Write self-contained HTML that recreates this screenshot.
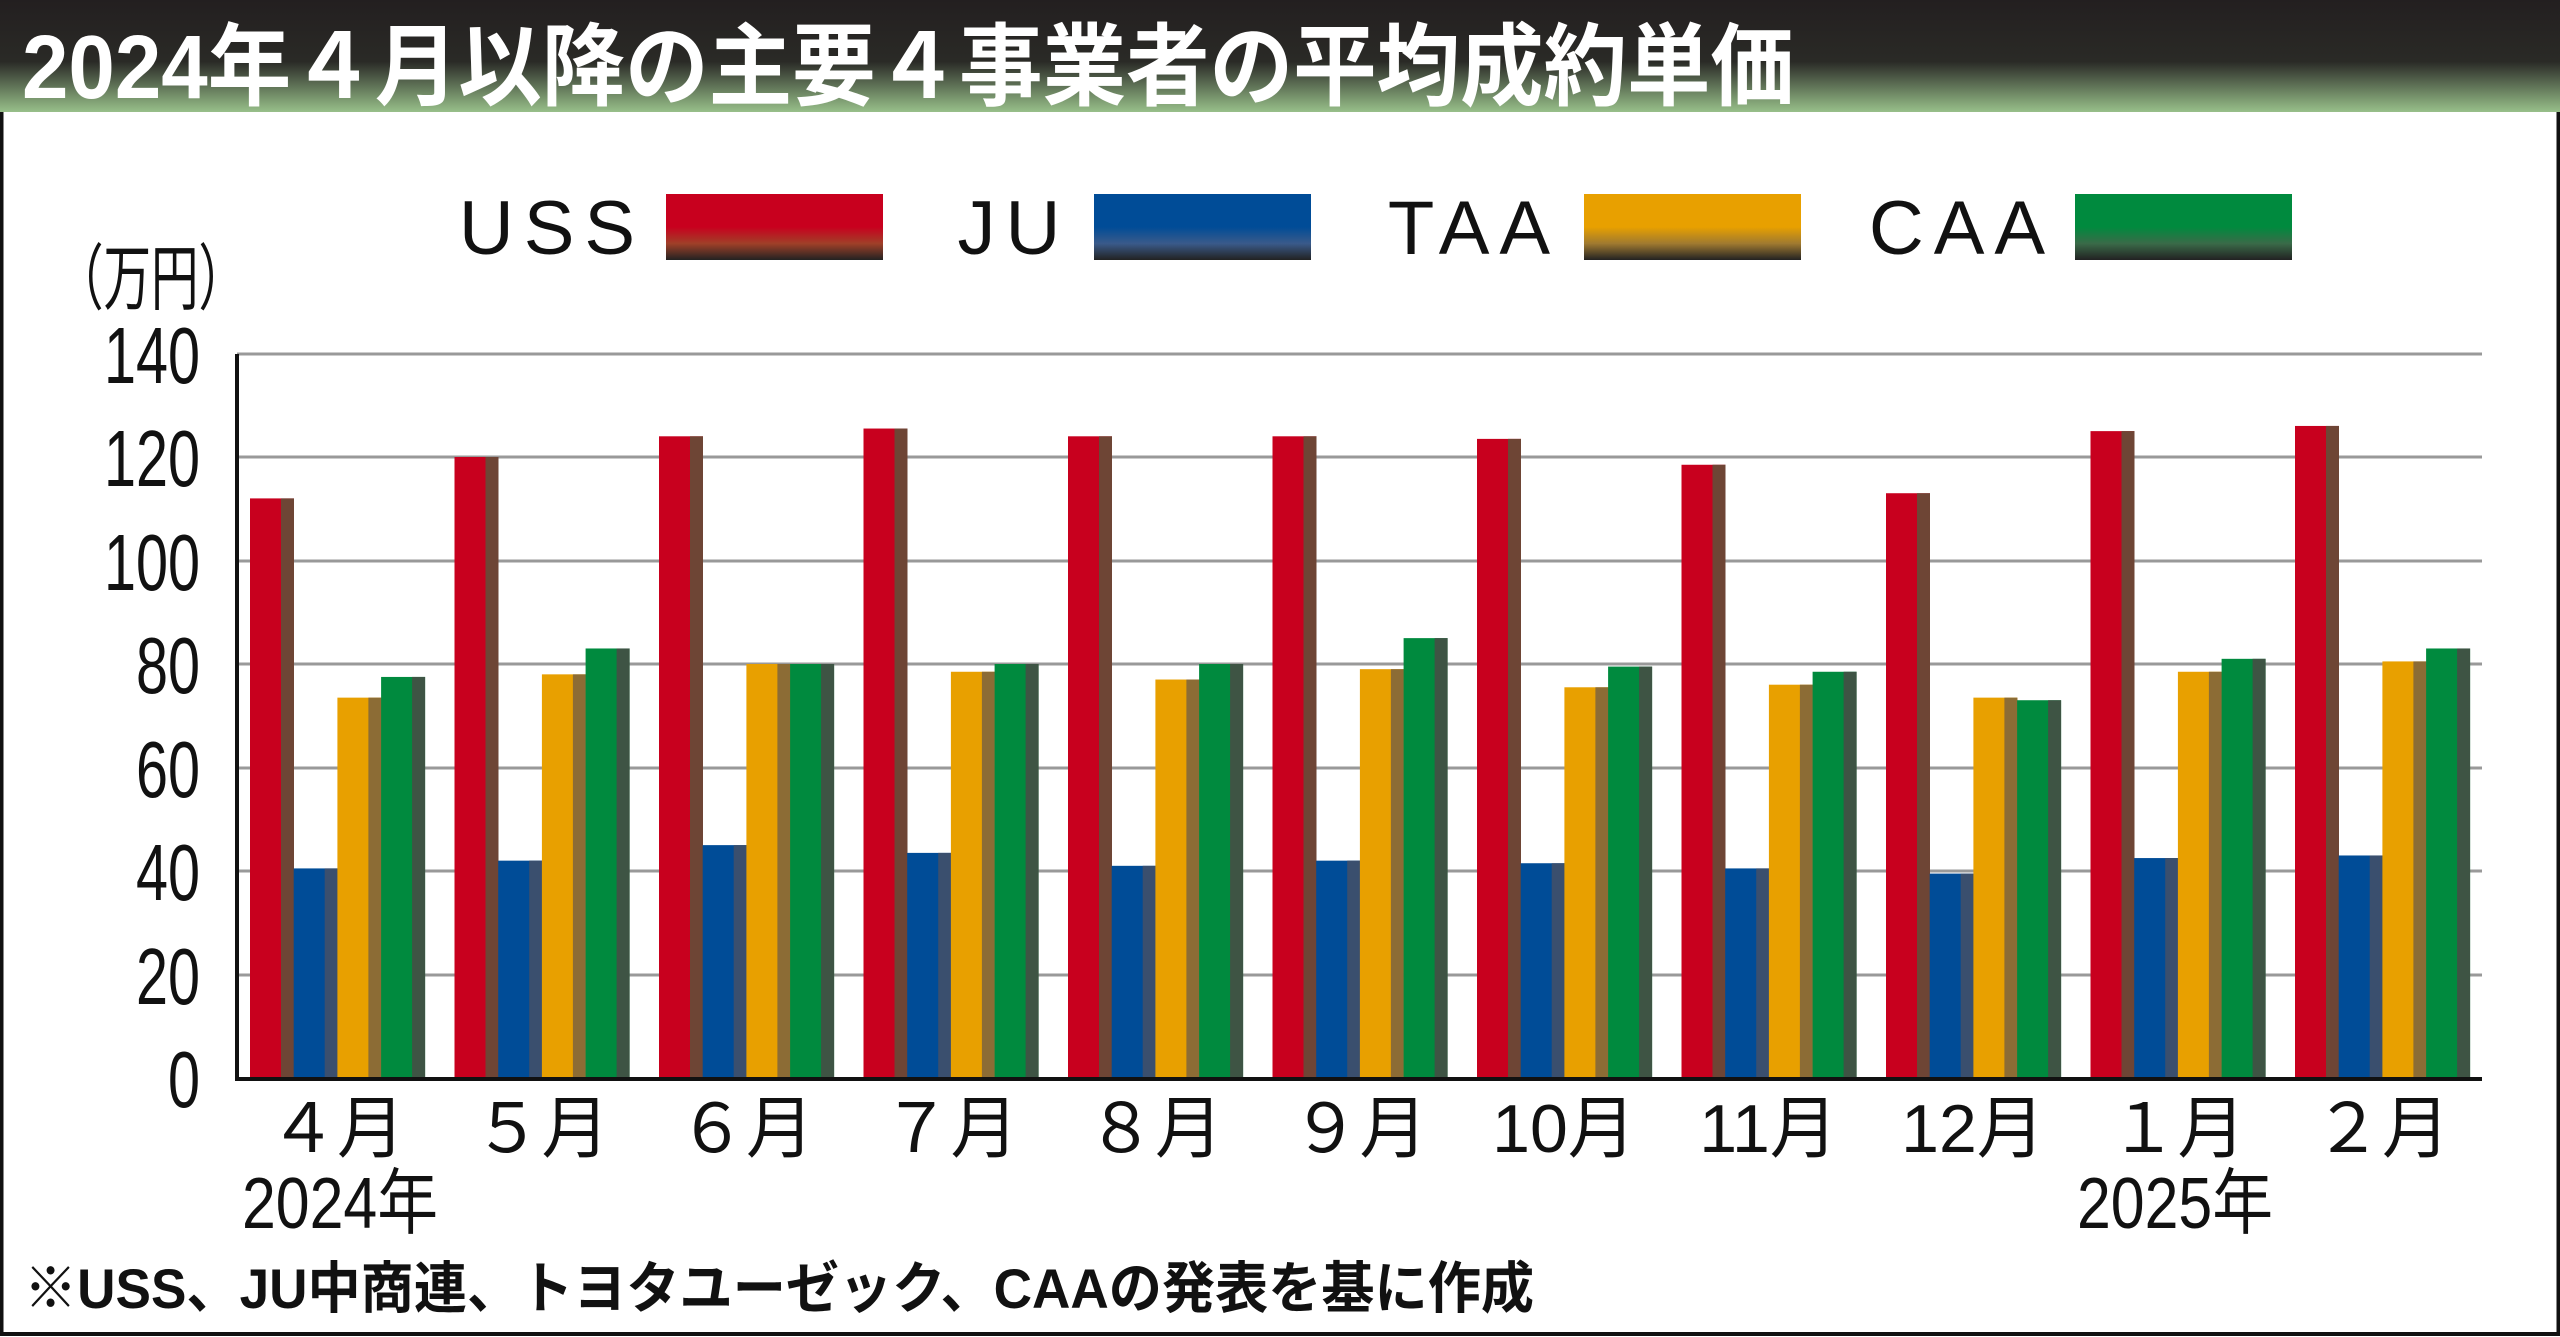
<!DOCTYPE html>
<html><head><meta charset="utf-8"><style>
html,body{margin:0;padding:0;background:#fff}
svg{display:block}
text{font-family:"Liberation Sans","Noto Sans CJK JP",sans-serif;fill:#111}
</style></head><body>
<svg width="2560" height="1337" viewBox="0 0 2560 1337" xmlns="http://www.w3.org/2000/svg">
<defs>
<linearGradient id="tb" x1="0" y1="0" x2="0" y2="1">
<stop offset="0" stop-color="#231f20"/><stop offset="0.55" stop-color="#2a2a26"/><stop offset="1" stop-color="#98c08a"/>
</linearGradient>
<linearGradient id="lr" x1="0" y1="0" x2="0" y2="1"><stop offset="0.5" stop-color="#c8001e"/><stop offset="0.75" stop-color="#a04028"/><stop offset="1" stop-color="#222"/></linearGradient>
<linearGradient id="lb" x1="0" y1="0" x2="0" y2="1"><stop offset="0.5" stop-color="#004c97"/><stop offset="0.75" stop-color="#3a5a8a"/><stop offset="1" stop-color="#222"/></linearGradient>
<linearGradient id="lo" x1="0" y1="0" x2="0" y2="1"><stop offset="0.5" stop-color="#e8a000"/><stop offset="0.75" stop-color="#a07a30"/><stop offset="1" stop-color="#222"/></linearGradient>
<linearGradient id="lg" x1="0" y1="0" x2="0" y2="1"><stop offset="0.5" stop-color="#008a3e"/><stop offset="0.75" stop-color="#3a6a48"/><stop offset="1" stop-color="#222"/></linearGradient>
</defs>
<rect x="1.5" y="100" width="2557" height="1234" fill="none" stroke="#111" stroke-width="4"/>
<rect x="0" y="0" width="2560" height="112" fill="url(#tb)"/>
<text x="22" y="98" font-size="90" font-weight="bold" style="fill:#fff" textLength="1772" lengthAdjust="spacingAndGlyphs">2024年４月以降の主要４事業者の平均成約単価</text>

<!-- legend -->
<text x="552" y="254" font-size="76" text-anchor="middle" letter-spacing="10">USS</text>
<rect x="666" y="194" width="217" height="66" fill="url(#lr)"/>
<text x="1014" y="254" font-size="76" text-anchor="middle" letter-spacing="10">JU</text>
<rect x="1094" y="194" width="217" height="66" fill="url(#lb)"/>
<text x="1474" y="254" font-size="76" text-anchor="middle" letter-spacing="10">TAA</text>
<rect x="1584" y="194" width="217" height="66" fill="url(#lo)"/>
<text x="1962" y="254" font-size="76" text-anchor="middle" letter-spacing="10">CAA</text>
<rect x="2075" y="194" width="217" height="66" fill="url(#lg)"/>

<text x="56" y="304" font-size="72" textLength="190" lengthAdjust="spacingAndGlyphs">（万円）</text>

<!-- grid -->
<g stroke="#999" stroke-width="3">
<line x1="237" y1="354" x2="2482" y2="354"/>
<line x1="237" y1="457" x2="2482" y2="457"/>
<line x1="237" y1="561" x2="2482" y2="561"/>
<line x1="237" y1="664" x2="2482" y2="664"/>
<line x1="237" y1="768" x2="2482" y2="768"/>
<line x1="237" y1="871" x2="2482" y2="871"/>
<line x1="237" y1="975" x2="2482" y2="975"/>
</g>
<g font-size="80" text-anchor="end">
<text x="200" y="383" textLength="96" lengthAdjust="spacingAndGlyphs">140</text>
<text x="200" y="486" textLength="96" lengthAdjust="spacingAndGlyphs">120</text>
<text x="200" y="590" textLength="96" lengthAdjust="spacingAndGlyphs">100</text>
<text x="200" y="693" textLength="64" lengthAdjust="spacingAndGlyphs">80</text>
<text x="200" y="797" textLength="64" lengthAdjust="spacingAndGlyphs">60</text>
<text x="200" y="900" textLength="64" lengthAdjust="spacingAndGlyphs">40</text>
<text x="200" y="1004" textLength="64" lengthAdjust="spacingAndGlyphs">20</text>
<text x="200" y="1107" textLength="32" lengthAdjust="spacingAndGlyphs">0</text>
</g>

<g id="bars"></g>
<line x1="237" y1="354" x2="237" y2="1080" stroke="#111" stroke-width="4"/>
<line x1="235" y1="1079" x2="2482" y2="1079" stroke="#111" stroke-width="4"/>

<g id="xl" font-size="68" text-anchor="middle"></g>
<text x="340" y="1228" font-size="72" text-anchor="middle" textLength="196" lengthAdjust="spacingAndGlyphs">2024年</text>
<text x="2175" y="1228" font-size="72" text-anchor="middle" textLength="196" lengthAdjust="spacingAndGlyphs">2025年</text>
<text x="24" y="1308" font-size="56" font-weight="bold" textLength="1510" lengthAdjust="spacingAndGlyphs">※USS、JU中商連、トヨタユーゼック、CAAの発表を基に作成</text>
</svg>
<script>
var d=[[112,40.5,73.5,77.5],[120,42,78,83],[124,45,80,80],[125.5,43.5,78.5,80],[124,41,77,80],[124,42,79,85],[123.5,41.5,75.5,79.5],[118.5,40.5,76,78.5],[113,39.5,73.5,73],[125,42.5,78.5,81],[126,43,80.5,83]];
var col=["#c8001e","#004c97","#e8a000","#008a3e"],dk=["#6e4535","#3a4f6e","#8c6c35","#3e5444"];
var labs=["４月","５月","６月","７月","８月","９月","10月","11月","12月","１月","２月"];
var ns="http://www.w3.org/2000/svg",g=document.getElementById("bars"),xl=document.getElementById("xl");
function r(x,y,w,h,f){var e=document.createElementNS(ns,"rect");e.setAttribute("x",x);e.setAttribute("y",y);e.setAttribute("width",w);e.setAttribute("height",h);e.setAttribute("fill",f);g.appendChild(e);}
for(var i=0;i<11;i++){var x0=250+i*204.5;for(var j=0;j<4;j++){var v=d[i][j],y=1078-v*5.175,x=x0+j*43.7;r(x,y,44,1078-y,col[j]);r(x+31,y,13,1078-y,dk[j]);}
var t=document.createElementNS(ns,"text");t.setAttribute("x",x0+87);t.setAttribute("y",1152);t.textContent=labs[i];xl.appendChild(t);}
</script>
</body></html>
